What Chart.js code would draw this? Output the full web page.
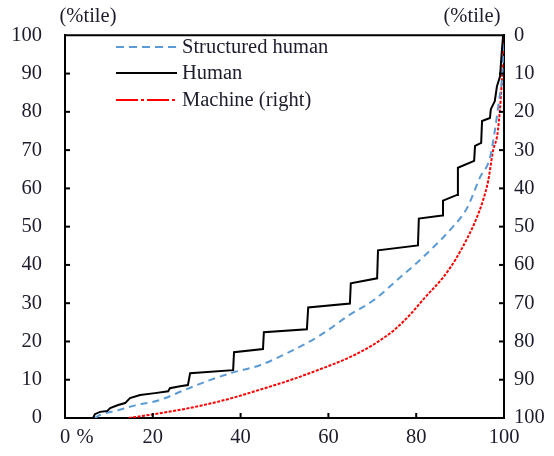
<!DOCTYPE html>
<html>
<head>
<meta charset="utf-8">
<script src="https://cdn.jsdelivr.net/npm/chart.js@4"></script>
<style>
html,body{margin:0;padding:0;background:#fff;}
#wrap{width:554px;height:456px;position:relative;}
</style>
</head>
<body>
<div id="wrap"><canvas id="c" width="554" height="456"></canvas></div>
<script>
// Human (step line) vertices
const humanX = [6.4, 6.8, 8.0, 9.6, 10.3, 12.1, 13.7, 14.8, 17.1, 20.5, 23.5, 23.9, 26.2, 28.0, 28.5, 38.3, 38.5, 45.1, 45.3, 55.1, 55.4, 64.9, 65.1, 71.1, 71.3, 80.4, 80.6, 85.9, 86.1, 89.3, 89.5, 93.2, 93.4, 94.8, 95.0, 96.8, 97.0, 97.9, 98.4, 99.1, 99.5, 99.8];
const humanY = [0, 1.0, 1.6, 1.8, 2.6, 3.4, 3.9, 5.2, 6.0, 6.5, 7.0, 7.8, 8.3, 8.6, 11.7, 12.5, 17.2, 18.0, 22.4, 23.2, 28.9, 29.9, 35.2, 36.5, 43.8, 45.1, 52.1, 52.9, 56.8, 58.3, 65.4, 67.2, 71.1, 71.9, 77.6, 78.4, 80.7, 82.8, 86.7, 89.3, 95.8, 100];
// Structured human (left axis)
const structX = [6.8, 8, 12, 16, 21.6, 27, 33, 38, 44.4, 51.9, 58, 64.9, 70.2, 76.3, 80, 83.8, 88, 91.6, 94.5, 96.8, 97.9, 99, 99.5, 100];
const structY = [0, 0.8, 2, 3.3, 4.7, 7.2, 9.9, 11.8, 13.8, 17.7, 21.5, 27, 30.7, 36.7, 40.4, 44.5, 49.5, 54.9, 62.8, 68, 75, 84, 88, 100];
// Machine (right axis, reversed percentile)
const machineX = [14.5, 18, 22, 27, 32, 38, 44.4, 51.3, 58, 64.9, 70, 75, 78.6, 82, 86.1, 89, 91.6, 93.5, 95.2, 96.4, 97.5, 98.6, 99.5, 99.8, 100];
const machineY = [100, 99.4, 98.7, 97.7, 96.5, 94.8, 92.6, 90.1, 87.3, 84.1, 81, 77, 73, 68.5, 63.3, 58.5, 53.1, 48.5, 43.2, 38, 30.2, 25, 12, 4, 0];
// Ticks / labels
const leftTicks = [0, 10, 20, 30, 40, 50, 60, 70, 80, 90, 100];
const rightTicks = [0, 10, 20, 30, 40, 50, 60, 70, 80, 90, 100];
const xTicks = [0, 20, 40, 60, 80, 100];
const labels = {struct: 'Structured human', human: 'Human', machine: 'Machine (right)', unit: '(%tile)', xUnit: '%'};

const pts = (xs, ys) => xs.map((x, i) => ({x: x, y: ys[i]}));
const FONT = '"Liberation Serif", "Times New Roman", serif';
const FS = 20.5;
const TXT = '#1c1c2c';

const decor = {
  id: 'decor',
  afterDraw(chart) {
    const ctx = chart.ctx, a = chart.chartArea;
    const xs = chart.scales.x, yl = chart.scales.y, yr = chart.scales.y2;
    ctx.save();
    ctx.strokeStyle = '#000';
    ctx.lineWidth = 2;
    // top border
    ctx.beginPath(); ctx.moveTo(a.left - 1, a.top); ctx.lineTo(a.right + 1, a.top); ctx.stroke();
    // inward ticks
    leftTicks.forEach(v => { if (v === 0 || v === 100) return; const p = yl.getPixelForValue(v); ctx.beginPath(); ctx.moveTo(a.left, p); ctx.lineTo(a.left + 5, p); ctx.stroke(); });
    rightTicks.forEach(v => { if (v === 0 || v === 100) return; const p = yr.getPixelForValue(v); ctx.beginPath(); ctx.moveTo(a.right, p); ctx.lineTo(a.right - 5, p); ctx.stroke(); });
    xTicks.forEach(v => { if (v === 0 || v === 100) return; const p = xs.getPixelForValue(v); ctx.beginPath(); ctx.moveTo(p, a.bottom); ctx.lineTo(p, a.bottom - 5); ctx.stroke(); });
    // unit labels
    ctx.fillStyle = TXT;
    ctx.font = FS + 'px ' + FONT;
    ctx.textBaseline = 'middle';
    ctx.textAlign = 'center';
    ctx.fillText(labels.unit, 88, 17);
    ctx.fillText(labels.unit, 472, 17);
    ctx.fillText(labels.xUnit, 85, 438);
    // legend
    const ds = chart.data.datasets;
    const rows = [
      {d: ds.find(d => d.key === 'struct'), y: 47},
      {d: ds.find(d => d.key === 'human'), y: 73},
      {d: ds.find(d => d.key === 'machine'), y: 100}
    ];
    ctx.textAlign = 'left';
    rows.forEach(r => {
      ctx.save();
      ctx.strokeStyle = r.d.borderColor;
      ctx.lineWidth = 2;
      ctx.setLineDash(r.d.legendDash || []);
      ctx.beginPath(); ctx.moveTo(116, r.y); ctx.lineTo(177, r.y); ctx.stroke();
      ctx.restore();
      ctx.fillStyle = TXT;
      ctx.fillText(r.d.label, 182, r.y + 1);
    });
    ctx.restore();
  }
};

new Chart(document.getElementById('c'), {
  type: 'line',
  data: {
    datasets: [
      {key: 'human', label: labels.human, data: pts(humanX, humanY), yAxisID: 'y', borderColor: '#000', borderWidth: 2, pointRadius: 0, tension: 0, legendDash: []},
      {key: 'struct', label: labels.struct, data: pts(structX, structY), yAxisID: 'y', borderColor: '#5b9bd5', borderWidth: 2, borderDash: [7, 5], pointRadius: 0, cubicInterpolationMode: 'monotone', legendDash: [8, 5]},
      {key: 'machine', label: labels.machine, data: pts(machineX, machineY), yAxisID: 'y2', borderColor: '#ff0000', borderWidth: 2, borderDash: [3, 1.5], pointRadius: 0, cubicInterpolationMode: 'monotone', legendDash: [22, 3, 3, 3]}
    ]
  },
  options: {
    responsive: false,
    animation: false,
    events: [],
    layout: {padding: {top: 34, left: 0, right: 0, bottom: 0}},
    plugins: {legend: {display: false}, tooltip: {enabled: false}},
    scales: {
      x: {
        type: 'linear', min: 0, max: 100,
        afterBuildTicks: s => { s.ticks = xTicks.map(v => ({value: v})); },
        grid: {display: false, drawTicks: false},
        border: {display: true, color: '#000', width: 2},
        ticks: {padding: 7, color: TXT, font: {family: FONT, size: FS}, maxRotation: 0},
        afterFit: s => { s.height = 38; }
      },
      y: {
        type: 'linear', position: 'left', min: 0, max: 100,
        afterBuildTicks: s => { s.ticks = leftTicks.map(v => ({value: v})); },
        grid: {display: false, drawTicks: false},
        border: {display: true, color: '#000', width: 2},
        ticks: {padding: 23, color: TXT, font: {family: FONT, size: FS}},
        afterFit: s => { s.width = 65; }
      },
      y2: {
        type: 'linear', position: 'right', min: 0, max: 100, reverse: true,
        afterBuildTicks: s => { s.ticks = rightTicks.map(v => ({value: v})); },
        grid: {display: false, drawTicks: false},
        border: {display: true, color: '#000', width: 2},
        ticks: {padding: 10, color: TXT, font: {family: FONT, size: FS}},
        afterFit: s => { s.width = 50; }
      }
    }
  },
  plugins: [decor]
});
</script>
</body>
</html>
